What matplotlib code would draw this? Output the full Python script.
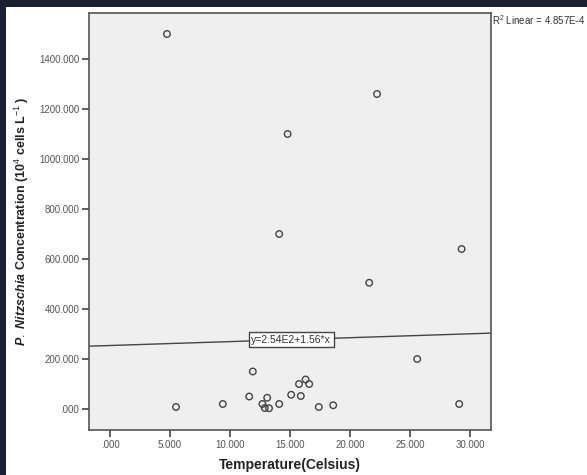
import numpy as np
import matplotlib
matplotlib.use("Agg")
from matplotlib import pyplot as plt
from matplotlib.patches import Rectangle

plt.rcParams['font.family'] = ['Liberation Sans', 'DejaVu Sans']
plt.rcParams['mathtext.fontset'] = 'custom'
plt.rcParams['mathtext.rm'] = 'Liberation Sans'
plt.rcParams['mathtext.bf'] = 'Liberation Sans:bold'
plt.rcParams['mathtext.it'] = 'Liberation Sans:italic:bold'

# datos
temperatura = [4.75, 14.8, 14.1, 22.25, 29.3, 21.6, 25.6, 29.1, 18.6, 17.4,
               15.9, 15.1, 15.75, 16.3, 16.6, 5.5, 9.4, 11.9, 11.6, 12.7,
               13.1, 12.9, 13.25, 14.1]
concentracion = [1500, 1100, 700, 1260, 640, 505, 200, 20, 15, 8,
                 52, 57, 100, 118, 100, 8, 20, 150, 50, 20,
                 45, 4, 3, 20]
intercepto = 254.0
pendiente = 1.56
r2_texto = "R$^2$ Linear = 4.857E-4"
ecuacion = "y=2.54E2+1.56*x"
yticks = [0, 200, 400, 600, 800, 1000, 1200, 1400]
xticks = [0, 5, 10, 15, 20, 25, 30]

W, H = 587, 475
fig = plt.figure(figsize=(W/100, H/100), dpi=100)
fig.patch.set_facecolor("#1b2130")
# panel blanco
fig.patches.append(Rectangle((6/W, 0), 1 - 6/W, 1 - 7/H, transform=fig.transFigure,
                             facecolor="white", edgecolor="none", zorder=-5))

ax = fig.add_axes([89/W, 1 - 430/H, (491-89)/W, (430-13)/H])
ax.set_facecolor("#efefef")
ax.set_xlim(-1.75, 31.75)
ax.set_ylim(-84, 1584)

ax.scatter(temperatura, concentracion, s=22, facecolors="none",
           edgecolors="#444444", linewidths=1.0, zorder=3)

xs = np.array(ax.get_xlim())
ax.plot(xs, intercepto + pendiente*xs, color="#444444", lw=1.0, zorder=2)

ax.text(15.1, intercepto + pendiente*15.1, ecuacion, fontsize=7.5, color="#333333",
        ha="center", va="center", zorder=4,
        bbox=dict(boxstyle="square,pad=0.25", fc="white", ec="#444444", lw=1))

ax.set_xticks(xticks)
ax.set_xticklabels(["%.3f" % v if v else ".000" for v in xticks])
ax.set_yticks(yticks)
ax.set_yticklabels(["%.3f" % v if v else ".000" for v in yticks])
ax.tick_params(labelsize=7, labelcolor="#555555", colors="#444444", length=5, width=1.2,
               direction="out", pad=2)
for s in ax.spines.values():
    s.set_color("#555555")
    s.set_linewidth(1.2)

ax.set_xlabel("Temperature(Celsius)", fontsize=10, fontweight="bold", color="#222222")
ax.xaxis.set_label_coords(0.5, -(465-430)/(430-13), transform=ax.transAxes)
ax.xaxis.label.set_va("center")
ax.set_ylabel(r"$\mathit{P.\ Nitzschia}$ Concentration (10$^4$ cells L$^{-1}$ )",
              fontsize=9, fontweight="bold", color="#222222")
ax.yaxis.set_label_coords(-(89-22)/(491-89), 0.5, transform=ax.transAxes)
ax.yaxis.label.set_va("center")

fig.text(492/W, 1 - 20/H, r2_texto, fontsize=7, color="#333333", ha="left", va="center")

fig.savefig("out.png", dpi=100, facecolor=fig.get_facecolor())
